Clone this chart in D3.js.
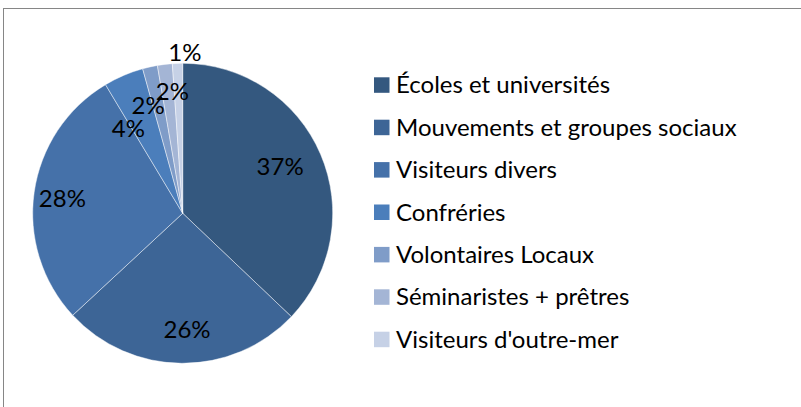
<!DOCTYPE html>
<html>
<head>
<meta charset="utf-8">
<script src="https://cdn.jsdelivr.net/npm/d3@7"></script>
<style>
  body { margin: 0; background: #fff; }
  svg { display: block; }
  text { font-family: Lato, "Open Sans", sans-serif; fill: #000; }
</style>
</head>
<body>
<svg id="chart" width="801" height="407"></svg>
<script>
// categories, in drawing order (clockwise from 12 o'clock)
const categories = [
  "Écoles et universités",
  "Mouvements et groupes sociaux",
  "Visiteurs divers",
  "Confréries",
  "Volontaires Locaux",
  "Séminaristes + prêtres",
  "Visiteurs d'outre-mer"
]
// share of visitors, in percent
const shares = [37.1, 26.0, 28.3, 4.3, 1.6, 1.6, 1.1]
const colors = ["#34587f", "#3d6596", "#4571a9", "#4b7ebb", "#7f9cc8", "#a4b5d5", "#c6d1e6"]
// excel "best fit" pushes some labels away from the slice middle
const labelNudge = [[-6, -3], [5, 4], [-9, 1], [-10, 18], [-10, 2], [3, -10], [6, -49]]

const width = 801, height = 407
const cx = 182.7, cy = 213.3, radius = 150

const svg = d3.select("#chart")

// chart area frame (runs off the right/bottom edges)
svg.append("rect")
  .attr("x", 3.5)
  .attr("y", 8.5)
  .attr("width", width)
  .attr("height", height)
  .attr("fill", "none")
  .attr("stroke", "#868686")
  .attr("stroke-width", 1)

const pie = d3.pie().sort(null).value(d => d)
const arcs = pie(shares)

const arc = d3.arc().innerRadius(0).outerRadius(radius)
const labelArc = d3.arc().innerRadius(radius * 0.75).outerRadius(radius * 0.75)

const g = svg.append("g").attr("transform", `translate(${cx},${cy})`)

g.selectAll("path")
  .data(arcs)
  .enter()
  .append("path")
  .attr("d", arc)
  .attr("fill", (d, i) => colors[i])
  .attr("stroke", "#fff")
  .attr("stroke-opacity", 0.6)
  .attr("stroke-width", 0.75)

g.selectAll("text.pct")
  .data(arcs)
  .enter()
  .append("text")
  .attr("class", "pct")
  .attr("transform", (d, i) => {
    let [x, y] = labelArc.centroid(d)
    return `translate(${x + labelNudge[i][0]},${y + labelNudge[i][1]})`
  })
  .attr("text-anchor", "middle")
  .attr("dy", "0.36em")
  .style("font-size", "24px")
  .text(d => Math.round(d.data) + "%")

// legend
const legendX = 374, legendY = 77.3, rowStep = 42.4, sw = 15.5

const legend = svg.append("g")
  .selectAll("g")
  .data(categories)
  .enter()
  .append("g")
  .attr("transform", (d, i) => `translate(${legendX},${legendY + i * rowStep})`)

legend.append("rect")
  .attr("width", sw)
  .attr("height", sw)
  .attr("fill", (d, i) => colors[i])

legend.append("text")
  .attr("x", 22)
  .attr("y", sw + 0.5)
  .style("font-size", "24px")
  .text(d => d)
</script>
</body>
</html>
